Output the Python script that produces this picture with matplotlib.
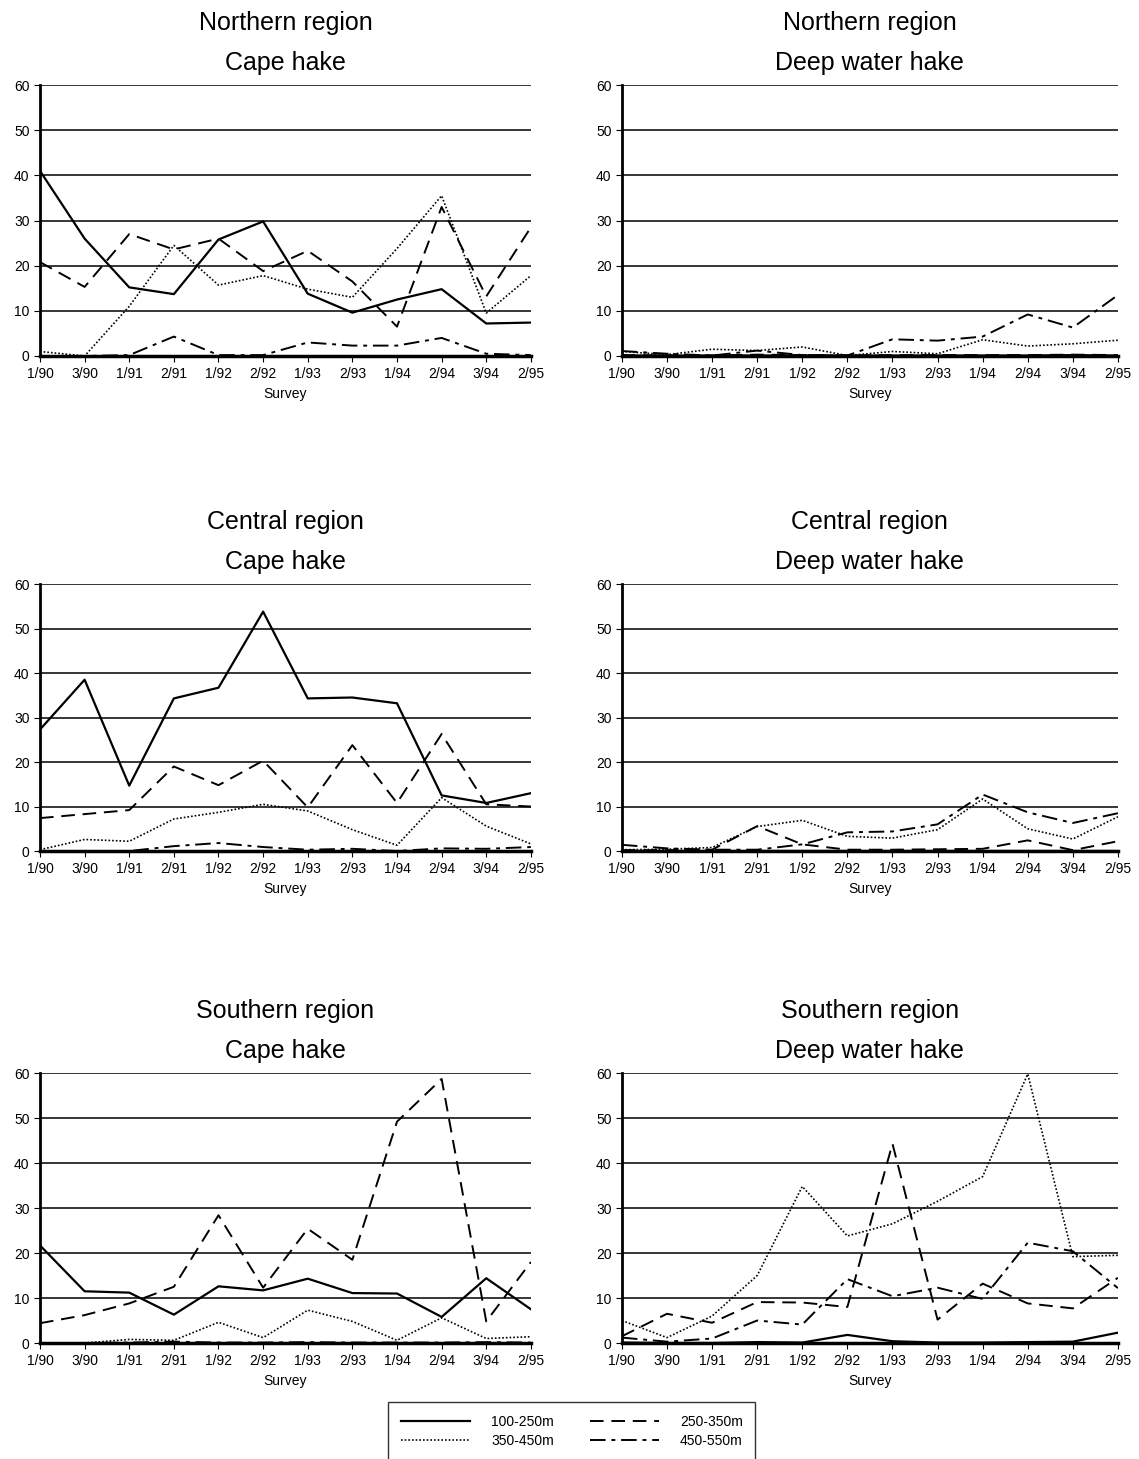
import matplotlib
matplotlib.use("Agg")
import matplotlib.pyplot as plt
import numpy as np

plt.rcParams['font.family'] = ['Liberation Sans', 'DejaVu Sans']

surveys = ['1/90', '3/90', '1/91', '2/91', '1/92', '2/92', '1/93', '2/93',
           '1/94', '2/94', '3/94', '2/95']
depths = ['100-250m', '250-350m', '350-450m', '450-550m']

# Northern region
north_cape = {
    '100-250m': [41, 26, 15.2, 13.7, 25.8, 29.8, 13.8, 9.6, 12.5, 14.8, 7.2, 7.4],
    '250-350m': [20.8, 15.3, 27, 23.6, 26, 18.8, 23.3, 16.5, 6.5, 33, 13.2, 28.5],
    '350-450m': [1, 0, 11, 24.5, 15.7, 17.8, 14.8, 13, 23.8, 35.5, 9.5, 17.8],
    '450-550m': [0, 0, 0.2, 4.3, 0.2, 0.2, 3, 2.3, 2.3, 4, 0.5, 0.2],
}
north_deep = {
    '100-250m': [0.1, 0.1, 0.1, 0.1, 0.1, 0.1, 0.1, 0.1, 0.1, 0.1, 0.2, 0.1],
    '250-350m': [0.2, 0.1, 0.1, 0.3, 0.2, 0.1, 0.2, 0.2, 0.2, 0.2, 0.3, 0.2],
    '350-450m': [1, 0.3, 1.5, 1.2, 2, 0.1, 1, 0.5, 3.6, 2.2, 2.7, 3.5],
    '450-550m': [1.1, 0.5, 0.1, 1.2, 0.2, 0.1, 3.7, 3.4, 4.3, 9.2, 6.3, 13.5],
}

# Central region
central_cape = {
    '100-250m': [27.3, 38.5, 14.7, 34.3, 36.7, 53.8, 34.3, 34.5, 33.2, 12.5, 10.8, 13],
    '250-350m': [7.4, 8.3, 9.2, 19, 14.8, 20.3, 9.8, 23.8, 10.8, 26.3, 10.5, 10],
    '350-450m': [0.3, 2.6, 2.2, 7.2, 8.7, 10.5, 9, 4.8, 1.3, 12, 5.6, 1.6],
    '450-550m': [0, 0, 0, 1.1, 1.8, 0.9, 0.3, 0.5, 0, 0.6, 0.5, 0.9],
}
central_deep = {
    '100-250m': [0.1, 0.1, 0.1, 0.1, 0.1, 0.1, 0.1, 0.1, 0.1, 0.1, 0.1, 0.1],
    '250-350m': [0.2, 0.2, 0.3, 5.6, 1.5, 0.3, 0.3, 0.4, 0.5, 2.4, 0.2, 2.2],
    '350-450m': [0.3, 0.4, 0.8, 5.5, 6.9, 3.3, 2.9, 4.8, 11.7, 5, 2.7, 7.7],
    '450-550m': [1.4, 0.6, 0.3, 0.3, 1.5, 4.2, 4.4, 6, 12.7, 8.7, 6.3, 8.5],
}

# Southern region
south_cape = {
    '100-250m': [21.7, 11.5, 11.2, 6.3, 12.6, 11.7, 14.3, 11.1, 11, 5.8, 14.4, 7.5],
    '250-350m': [4.4, 6.2, 8.8, 12.5, 28.4, 12.3, 25.4, 18.5, 49.2, 58.7, 4.8, 18],
    '350-450m': [0, 0, 0.8, 0.6, 4.6, 1.2, 7.3, 4.8, 0.6, 5.6, 1, 1.4],
    '450-550m': [0, 0, 0.1, 0.3, 0.1, 0.1, 0.2, 0.1, 0.1, 0.1, 0.2, 0.1],
}
south_deep = {
    '100-250m': [0.1, 0, 0, 0.2, 0.1, 1.8, 0.4, 0.1, 0.1, 0.2, 0.3, 2.3],
    '250-350m': [1.5, 6.5, 4.5, 9.1, 9, 8, 44.3, 5.2, 13.2, 8.8, 7.7, 14.5],
    '350-450m': [5, 1.2, 6, 15, 34.8, 23.8, 26.5, 31.5, 37, 59.8, 19.2, 19.5],
    '450-550m': [1.2, 0.3, 1, 5, 4.1, 14.2, 10.4, 12.3, 9.8, 22.3, 20.4, 12.2],
}

styles = {
    '100-250m': dict(linestyle='-', linewidth=1.6),
    '250-350m': dict(linestyle=(0, (7, 4)), linewidth=1.4),
    '350-450m': dict(linestyle=(0, (1, 1.2)), linewidth=1.2),
    '450-550m': dict(linestyle=(0, (8, 3, 2, 3)), linewidth=1.4),
}

panels = [
    ('Northern region\nCape hake', north_cape, [0.0351, 0.756, 0.431, 0.1857]),
    ('Northern region\nDeep water hake', north_deep, [0.546, 0.756, 0.4355, 0.1857]),
    ('Central region\nCape hake', central_cape, [0.0351, 0.4167, 0.431, 0.183]),
    ('Central region\nDeep water hake', central_deep, [0.546, 0.4167, 0.4355, 0.183]),
    ('Southern region\nCape hake', south_cape, [0.0351, 0.0795, 0.431, 0.185]),
    ('Southern region\nDeep water hake', south_deep, [0.546, 0.0795, 0.4355, 0.185]),
]

fig = plt.figure(figsize=(11.39, 14.59), dpi=100)
x = np.arange(len(surveys))
lines = {}

for title, data, rect in panels:
    ax = fig.add_axes(rect)
    for y in range(10, 70, 10):
        ax.axhline(y, color='black', linewidth=1.1, zorder=1)
    for d in depths:
        ln, = ax.plot(x, data[d], color='black', zorder=3, **styles[d])
        lines[d] = ln
    ax.set_xlim(0, 11)
    ax.set_ylim(0, 60)
    ax.set_yticks(range(0, 70, 10))
    ax.set_xticks(x)
    ax.set_xticklabels(surveys)
    ax.tick_params(axis='both', labelsize=10, length=4, width=0.8, color='black')
    ax.tick_params(axis='x', pad=4)
    ax.set_xlabel('Survey', fontsize=10, labelpad=4)
    for s in ['top', 'right']:
        ax.spines[s].set_visible(False)
    ax.spines['left'].set_linewidth(2)
    ax.spines['bottom'].set_linewidth(2.5)
    ax.set_title(title, fontsize=18, linespacing=1.85, pad=11)

order = ['100-250m', '350-450m', '250-350m', '450-550m']
leg = fig.legend([lines[d] for d in order], order, loc='lower center',
                 bbox_to_anchor=(0.502, -0.006), ncol=2, fontsize=10,
                 frameon=True, fancybox=False, edgecolor='black',
                 handlelength=5.0, columnspacing=2.6, borderpad=0.9,
                 handletextpad=1.5, labelspacing=0.4)
leg.get_frame().set_linewidth(1.0)

fig.savefig('out.png', dpi=100)
